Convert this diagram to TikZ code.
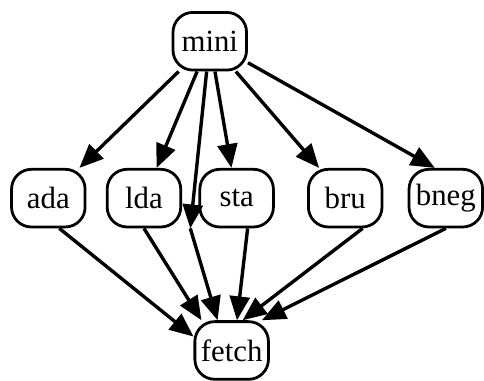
\documentclass[tikz,border=0pt]{standalone}
\usepackage{fontspec}
\setmainfont{Liberation Serif}
\usepackage{tikz}
\usetikzlibrary{arrows.meta, positioning, calc}
\tikzset{
    box_instr/.style={rectangle, rounded corners=10pt, draw=black, line width=1.4pt, minimum width=37pt, minimum height=29pt, inner sep=2pt, align=center, font=\fontsize{15.5}{17}\selectfont},
    flecha_dep/.style={draw, -{Triangle[length=12pt, width=10pt]}, line width=1.7pt, color=black}
}

\begin{document}
\begin{tikzpicture}[node distance=48.5pt and 10pt]
            \node[box_instr] (mini) {mini};

            \node[box_instr, below=of mini, xshift=13.5pt] (sta) {sta};
            \node[box_instr, left=8.2pt of sta] (lda) {lda};
            \node[box_instr, left=9.7pt of lda] (ada) {ada};
            \node[box_instr, right=16.2pt of sta] (bru) {bru};
            \node[box_instr, right=12.2pt of bru] (bneg) {bneg};

            \node[box_instr, below=46.2pt of sta, xshift=-2.5pt] (fetch) {fetch};
            \coordinate (via) at ($(lda.south east)!0.5!(sta.south west)$);

            \useasboundingbox ($(mini.center)+(-105.5pt,20.75pt)$) rectangle ++(242pt,-189.5pt);

            \draw[flecha_dep] (mini) -- (ada);
            \draw[flecha_dep] (mini) -- (lda);
            \draw[flecha_dep] (mini) -- (via);
            \draw[flecha_dep] (mini) -- (sta);
            \draw[flecha_dep] (mini) -- (bru);
            \draw[flecha_dep] (mini) -- (bneg.110);
            \draw[flecha_dep] (ada.290) -- (fetch.160);
            \draw[flecha_dep] (lda.south) -- (fetch.135);
            \draw[flecha_dep] (via) -- (fetch.115);
            \draw[flecha_dep] (sta.290) -- (fetch.80);
            \draw[flecha_dep] (bru.300) -- (fetch.70);
            \draw[flecha_dep] (bneg.south) -- (fetch.45);
        \end{tikzpicture}
\end{document}
